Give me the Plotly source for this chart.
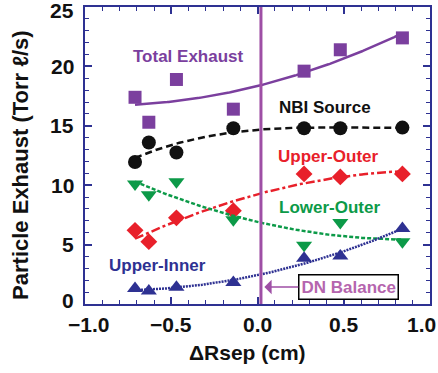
import numpy as np
import plotly.graph_objects as go

# Separatrix offset (cm) for each discharge
drsep = [-0.71, -0.63, -0.47, -0.14, 0.27, 0.48, 0.84]

# Particle exhaust rates (Torr l/s)
total_exhaust = [17.4, 15.3, 18.9, 16.4, 19.6, 21.4, 22.4]
nbi_source = [11.95, 13.6, 12.75, 14.8, 14.8, 14.8, 14.85]
upper_outer = [6.2, 5.25, 7.25, 7.85, 10.95, 10.7, 10.95]
lower_outer = [10.1, 9.2, 10.3, 7.1, 4.95, 6.85, 5.25]
upper_inner = [1.3, 1.1, 1.4, 1.8, 3.85, 4.05, 6.35]

# Axis ticks and their labels
x_ticks = [-1.0, -0.5, 0.0, 0.5, 1.0]
x_ticklabels = ["\u22121.0", "\u22120.5", "0.0", "0.5", "1.0"]
y_ticks = [0, 5, 10, 15, 20, 25]
y_ticklabels = ["0", "5", "10", "15", "20", "25"]

dn_balance = 0.02

FONT = "Liberation Sans, Arial, Helvetica, sans-serif"
NAVY = "#2E3192"

# name, values, colour, marker, marker size, line dash, fit degree, label position
series = [
    ("Total Exhaust", total_exhaust, "#7B3F9E", "square", 13, "solid", 2, (-0.40, 20.8)),
    ("NBI Source", nbi_source, "#111111", "circle", 14, "7px,4px", 3, (0.39, 16.5)),
    ("Upper-Outer", upper_outer, "#E8202A", "diamond", 13, "9px,3px,3px,3px", 2, (0.41, 12.4)),
    ("Lower-Outer", lower_outer, "#0C9A48", "triangle-down", 14, "4px,2px", 2, (0.42, 8.1)),
    ("Upper-Inner", upper_inner, NAVY, "triangle-up", 14, "2px,1px", 2, (-0.58, 3.2)),
]

fig = go.Figure()
xfit = np.linspace(min(drsep), max(drsep), 200)
annotations = []
for name, vals, color, symbol, size, dash, deg, (lx, ly) in series:
    coef = np.polyfit(drsep, vals, deg)
    fig.add_trace(go.Scatter(x=xfit, y=np.polyval(coef, xfit), mode="lines",
                             line=dict(color=color, width=2.5, dash=dash),
                             hoverinfo="skip", showlegend=False))
    fig.add_trace(go.Scatter(x=drsep, y=vals, mode="markers", name=name,
                             marker=dict(symbol=symbol, size=size, color=color,
                                         line=dict(width=0)),
                             showlegend=False))
    annotations.append(dict(x=lx, y=ly, text=name, showarrow=False,
                            font=dict(family=FONT, size=17, color=color, weight="bold")))

# Double-null balance marker
fig.add_shape(type="line", x0=dn_balance, x1=dn_balance, y0=0, y1=25,
              line=dict(color="#9E4FA5", width=3))
annotations.append(dict(x=dn_balance + 0.02, y=1.43, ax=0.525, ay=1.43,
                        axref="x", ayref="y", text="DN Balance",
                        showarrow=True, arrowhead=1, arrowsize=1.6, arrowwidth=1.5,
                        arrowcolor="#9E4FA5", bordercolor="#000000", borderwidth=1.5,
                        borderpad=2, bgcolor="white",
                        font=dict(family=FONT, size=17, color="#B565AE", weight="bold")))

# Tick labels, nudged inward at the ends of each axis so they stay on the page
tick_font = dict(family=FONT, size=21, color="#111111", weight="bold")
for i, (v, t) in enumerate(zip(x_ticks, x_ticklabels)):
    nudge = 3 if i == 0 else (-9 if i == len(x_ticks) - 1 else 0)
    annotations.append(dict(x=v, xref="x", y=0, yref="paper", text=t, showarrow=False,
                            xanchor="center", yanchor="middle", xshift=nudge, yshift=-20,
                            font=tick_font))
for i, (v, t) in enumerate(zip(y_ticks, y_ticklabels)):
    nudge = 4 if i == 0 else (-3 if i == len(y_ticks) - 1 else 0)
    annotations.append(dict(x=0, xref="paper", y=v, yref="y", text=t, showarrow=False,
                            xanchor="right", yanchor="middle", xshift=-9, yshift=nudge,
                            font=tick_font))

# Axis titles
annotations.append(dict(xref="paper", yref="paper", x=0.47, y=-0.162,
                        xanchor="center", yanchor="middle", showarrow=False,
                        text="\u0394Rsep (cm)",
                        font=dict(family=FONT, size=21, color="#111111", weight="bold")))
annotations.append(dict(xref="paper", yref="paper", x=-0.187, y=0.47,
                        xanchor="center", yanchor="middle", showarrow=False,
                        textangle=-90, text="Particle Exhaust (Torr \u2113/s)",
                        font=dict(family=FONT, size=22, color="#111111", weight="bold")))

axis_common = dict(showline=True, linecolor=NAVY, linewidth=2, mirror="ticks",
                   ticks="inside", tickcolor=NAVY, tickwidth=1.5, ticklen=7,
                   showgrid=False, zeroline=False, automargin=False,
                   showticklabels=False)

fig.update_xaxes(range=[-1, 1], tickvals=x_ticks,
                 minor=dict(dtick=0.1, ticks="inside", ticklen=4, tickcolor=NAVY, tickwidth=1.2),
                 **axis_common)
fig.update_yaxes(range=[0, 25], tickvals=y_ticks,
                 minor=dict(dtick=1, ticks="inside", ticklen=4, tickcolor=NAVY, tickwidth=1.2),
                 **axis_common)

fig.update_layout(width=438, height=373, margin=dict(l=85, r=8, t=7, b=69),
                  plot_bgcolor="white", paper_bgcolor="white",
                  annotations=annotations)

fig.write_html("out.html")
